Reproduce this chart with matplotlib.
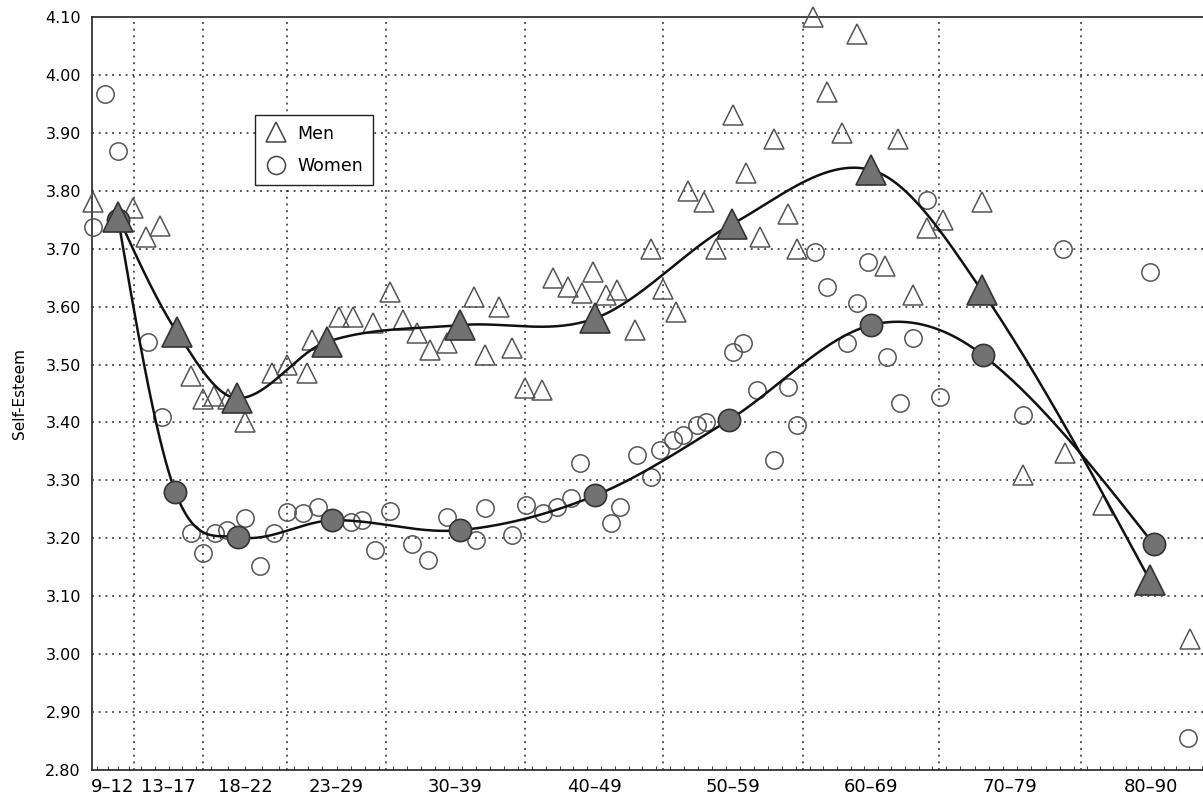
import numpy as np
import matplotlib.pyplot as plt
from matplotlib.lines import Line2D

plt.rcParams['font.family'] = ['DejaVu Sans']

groups = ['9–12', '13–17', '18–22', '23–29', '30–39', '40–49',
          '50–59', '60–69', '70–79', '80–90']
edges = [8.5, 12.5, 17.5, 22.5, 29.5, 39.5, 49.5, 59.5, 69.5, 79.5, 90.5]
# horizontal room each age band takes on the original axis (relative)
band_pos = [0, 42, 111, 195, 294, 433, 571, 711, 847, 989, 1129]

# single-year samples
men_age = [8.6, 12.4, 13.4, 14.4, 16.6, 17.5, 18.15, 19.0, 20.0, 21.6, 22.5, 23.9,
           24.3, 26.2, 27.2, 28.6, 29.8, 30.7, 31.7, 32.7, 33.9, 35.8, 36.6, 37.6,
           38.6, 39.5, 40.7, 41.5, 42.6, 43.6, 44.4, 45.4, 46.2, 47.5, 48.6, 49.5,
           50.4, 51.3, 52.4, 53.3, 54.5, 55.4, 56.4, 57.4, 58.4, 59.1, 60.2, 61.3,
           62.4, 63.5, 65.5, 66.5, 67.6, 68.6, 69.8, 72.5, 75.4, 78.4, 81.2, 88.1]
men_val = [3.78, 3.77, 3.72, 3.74, 3.48, 3.44, 3.445, 3.44, 3.40, 3.485, 3.50, 3.485,
           3.542, 3.582, 3.582, 3.572, 3.625, 3.577, 3.554, 3.525, 3.537, 3.616, 3.516, 3.60,
           3.528, 3.46, 3.456, 3.649, 3.634, 3.623, 3.66, 3.62, 3.628, 3.56, 3.70, 3.63,
           3.59, 3.80, 3.78, 3.70, 3.93, 3.83, 3.72, 3.89, 3.76, 3.70, 4.10, 3.97,
           3.90, 4.07, 3.67, 3.89, 3.62, 3.735, 3.75, 3.78, 3.31, 3.347, 3.257, 3.027]

women_age = [9.7, 11.0, 8.6, 13.5, 14.5, 16.6, 17.5, 18.2, 18.9, 20.0, 20.9, 21.7,
             22.5, 23.6, 24.7, 27.0, 27.8, 28.7, 29.8, 31.4, 32.5, 33.9, 36.0, 36.6,
             38.6, 39.6, 40.8, 41.8, 42.8, 43.5, 45.7, 46.4, 47.6, 48.6, 49.3, 50.2,
             50.9, 51.9, 52.6, 54.5, 55.2, 56.2, 57.4, 58.4, 59.1, 60.4, 61.3, 62.7,
             63.5, 64.3, 65.7, 66.6, 67.6, 68.6, 69.6, 75.4, 78.2, 84.9, 87.9]
women_val = [3.967, 3.869, 3.737, 3.539, 3.41, 3.209, 3.174, 3.209, 3.214, 3.235, 3.153, 3.209,
             3.245, 3.243, 3.254, 3.228, 3.231, 3.18, 3.248, 3.19, 3.162, 3.236, 3.197, 3.252,
             3.205, 3.257, 3.243, 3.254, 3.27, 3.33, 3.226, 3.254, 3.344, 3.306, 3.352, 3.37,
             3.378, 3.395, 3.40, 3.521, 3.537, 3.456, 3.335, 3.461, 3.395, 3.694, 3.634, 3.537,
             3.606, 3.677, 3.513, 3.433, 3.545, 3.784, 3.444, 3.413, 3.70, 3.66, 2.856]

# age-group means
men_mean_age = [11.0, 15.6, 19.5, 25.3, 34.8, 44.6, 54.4, 64.5, 72.5, 84.9]
men_mean = [3.755, 3.556, 3.442, 3.539, 3.568, 3.58, 3.742, 3.836, 3.628, 3.128]
women_mean_age = [11.0, 15.5, 19.6, 25.7, 34.8, 44.6, 54.2, 64.5, 72.6, 85.2]
women_mean = [3.75, 3.28, 3.202, 3.231, 3.214, 3.274, 3.404, 3.568, 3.516, 3.19]


def fwd(a):
    return np.interp(a, edges, band_pos)


def inv(p):
    return np.interp(p, band_pos, edges)


def smooth(x, y, per=60):
    # Catmull-Rom tangents inside, natural (zero curvature) ends
    x = np.asarray(x, float)
    y = np.asarray(y, float)
    n = len(x)
    m = np.zeros(n)
    m[1:-1] = (y[2:] - y[:-2]) / (x[2:] - x[:-2])
    s0 = (y[1] - y[0]) / (x[1] - x[0])
    s1 = (y[-1] - y[-2]) / (x[-1] - x[-2])
    m[0] = (3 * s0 - m[1]) / 2
    m[-1] = (3 * s1 - m[-2]) / 2
    xs, ys = [], []
    t = np.linspace(0, 1, per)
    for i in range(n - 1):
        h = x[i + 1] - x[i]
        h00 = 2 * t**3 - 3 * t**2 + 1
        h10 = t**3 - 2 * t**2 + t
        h01 = -2 * t**3 + 3 * t**2
        h11 = t**3 - t**2
        xs.append(x[i] + t * h)
        ys.append(h00 * y[i] + h10 * h * m[i] + h01 * y[i + 1] + h11 * h * m[i + 1])
    return np.concatenate(xs), np.concatenate(ys)


fig = plt.figure(figsize=(12.03, 7.99), dpi=100)
ax = fig.add_axes([92 / 1203, 1 - 770 / 799, 1129 / 1203, 753 / 799])
ax.set_xscale('function', functions=(fwd, inv))
ax.set_xlim(edges[0], edges[-1])
ax.set_ylim(2.80, 4.10)

grid_kw = dict(color='#222222', linestyle=(0, (1.2, 3.2)), linewidth=1.1, zorder=0)
for e in edges[1:-1]:
    ax.axvline(e, **grid_kw)
for v in np.arange(2.9, 4.05, 0.1):
    ax.axhline(v, **grid_kw)

yt = np.round(np.arange(2.8, 4.101, 0.1), 2)
ax.set_yticks(yt)
ax.set_yticklabels(['%.2f' % v for v in yt])
ax.tick_params(axis='y', length=0, pad=8, labelsize=11.5)
ax.set_xticks([])
ax.set_xticks(np.arange(9, 91), minor=True)
ax.tick_params(axis='x', which='minor', direction='in', length=3, width=0.8, color='#444444')

trans = ax.get_xaxis_transform()
for i, g in enumerate(groups):
    c = inv((fwd(edges[i]) + fwd(edges[i + 1])) / 2)
    ax.text(c, -0.011, g, transform=trans, ha='center', va='top', fontsize=13)

ax.set_ylabel('Self-Esteem', fontsize=11, labelpad=13)

ax.spines['right'].set_visible(False)
for side in ['left', 'top', 'bottom']:
    ax.spines[side].set_linewidth(1.2)
    ax.spines[side].set_color('#222222')

ax.plot(men_age, men_val, linestyle='none', marker='^', ms=14, mfc='none',
        mec='#555555', mew=1.1, zorder=3, clip_on=False)
ax.plot(women_age, women_val, linestyle='none', marker='o', ms=12.5, mfc='none',
        mec='#555555', mew=1.1, zorder=3, clip_on=False)

for ages, vals in [(men_mean_age, men_mean), (women_mean_age, women_mean)]:
    xs, ys = smooth(fwd(np.array(ages)), vals)
    ax.plot(inv(xs), ys, color='#111111', linewidth=1.8, zorder=4)

ax.plot(women_mean_age, women_mean, linestyle='none', marker='o', ms=16,
        mfc='#727272', mec='#333333', mew=1.2, zorder=5)
ax.plot(men_mean_age, men_mean, linestyle='none', marker='^', ms=21,
        mfc='#727272', mec='#333333', mew=1.2, zorder=6)

handles = [Line2D([], [], linestyle='none', marker='^', ms=15, mfc='none', mec='#444444', mew=1.1),
           Line2D([], [], linestyle='none', marker='o', ms=13, mfc='none', mec='#444444', mew=1.1)]
leg = ax.legend(handles, ['Men', 'Women'], loc='upper left',
                bbox_to_anchor=(163 / 1129, 1 - 98 / 753), fontsize=12.5,
                fancybox=False, framealpha=1, edgecolor='#222222', borderaxespad=0,
                handletextpad=0.6, borderpad=0.55, labelspacing=0.85, handlelength=1.3)
leg.get_frame().set_linewidth(1.0)
leg.set_zorder(7)

fig.savefig('out.png', dpi=100)
